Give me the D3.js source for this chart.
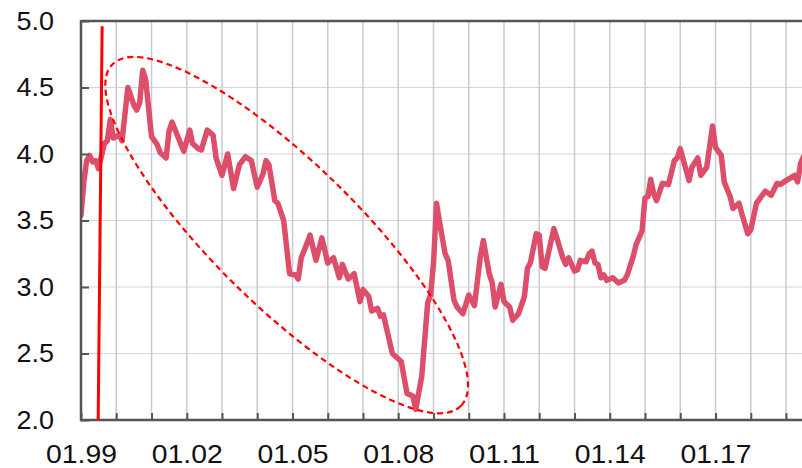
<!DOCTYPE html>
<html>
<head>
<meta charset="utf-8">
<script src="https://cdn.jsdelivr.net/npm/d3@7/dist/d3.min.js"></script>
<style>
  html, body { margin: 0; padding: 0; background: #fff; }
  svg { display: block; }
  text { font-family: "Liberation Sans", Arial, sans-serif; }
</style>
</head>
<body>
<svg id="chart" width="802" height="468"></svg>
<script>
// ---- data ----
const months = ["1999-01","1999-02","1999-03","1999-04","1999-05","1999-06","1999-07","1999-09","1999-10","1999-11","1999-12",
"2000-02","2000-03","2000-05","2000-07","2000-08","2000-09","2000-10","2000-11",
"2001-01","2001-03","2001-04","2001-06","2001-07","2001-08","2001-10","2001-12",
"2002-02","2002-03","2002-05","2002-06","2002-08","2002-10","2002-11",
"2003-01","2003-03","2003-05","2003-07","2003-09","2003-11",
"2004-01","2004-03","2004-04","2004-05","2004-07","2004-08","2004-10","2004-12",
"2005-02","2005-03","2005-04","2005-06","2005-07","2005-09","2005-11",
"2006-01","2006-03","2006-05","2006-06","2006-08","2006-10","2006-12",
"2007-01","2007-03","2007-04","2007-06","2007-07","2007-08","2007-11",
"2008-02","2008-04","2008-06","2008-07","2008-09","2008-11","2008-12",
"2009-01","2009-02","2009-03","2009-05","2009-06","2009-08","2009-09","2009-11",
"2010-01","2010-03","2010-05","2010-06","2010-08","2010-09","2010-10","2010-12",
"2011-01","2011-03","2011-04","2011-06","2011-08","2011-09","2011-10","2011-12",
"2012-01","2012-02","2012-03","2012-06","2012-07","2012-09","2012-10","2012-11",
"2013-01","2013-02","2013-03","2013-05","2013-06","2013-07","2013-08","2013-09","2013-10","2013-11","2013-12",
"2014-02","2014-04","2014-06","2014-07","2014-09","2014-10","2014-12",
"2015-01","2015-02","2015-03","2015-04","2015-05","2015-07","2015-09","2015-11","2015-12",
"2016-01","2016-04","2016-05","2016-07","2016-08","2016-10","2016-12",
"2017-01","2017-03","2017-04","2017-06","2017-07","2017-09","2017-10","2017-12",
"2018-01","2018-03","2018-05","2018-06","2018-08","2018-10","2018-11",
"2019-01","2019-04","2019-05","2019-06","2019-07"];

const values = [3.54,3.80,3.95,3.99,3.94,3.95,3.89,4.08,4.10,4.26,4.12,
4.14,4.10,4.50,4.37,4.33,4.39,4.63,4.56,
4.13,4.07,4.01,3.97,4.17,4.24,4.13,4.02,
4.18,4.08,4.04,4.03,4.18,4.14,3.97,
3.84,4.00,3.74,3.92,3.98,3.95,
3.75,3.85,3.95,3.92,3.65,3.63,3.50,3.10,
3.09,3.06,3.22,3.33,3.39,3.20,3.37,
3.18,3.22,3.07,3.17,3.06,3.10,2.89,
2.98,2.93,2.82,2.84,2.78,2.79,2.50,
2.44,2.20,2.18,2.08,2.33,2.88,2.94,
3.18,3.63,3.50,3.25,3.20,2.90,2.85,2.80,
2.94,2.86,3.23,3.35,3.10,3.03,2.85,3.02,
2.89,2.85,2.75,2.80,2.93,3.14,3.18,3.40,
3.39,3.15,3.14,3.44,3.37,3.22,3.17,3.22,
3.12,3.13,3.20,3.19,3.25,3.27,3.18,3.17,3.07,3.09,3.05,
3.07,3.03,3.05,3.09,3.23,3.32,3.42,
3.67,3.68,3.81,3.70,3.65,3.78,3.77,3.95,3.97,
4.04,3.80,3.90,3.97,3.84,3.90,4.21,
4.05,3.99,3.79,3.68,3.59,3.63,3.55,3.40,
3.43,3.63,3.69,3.72,3.69,3.78,3.77,
3.80,3.84,3.79,3.93,3.98];

const yTicks = [2.0, 2.5, 3.0, 3.5, 4.0, 4.5, 5.0];
const xGridYears = d3.range(1999, 2020);      // yearly gridlines
const xLabelYears = [1999, 2002, 2005, 2008, 2011, 2014, 2017];

// annotations (data space)
const markerLine = [{date: "1999-06-28", value: 2.0}, {date: "1999-08-08", value: 4.96}];
const ellipseCenter = {date: "2004-11-01", value: 3.39};
const ellipseShape = {rx: 244, ry: 71.5, angle: 44.4};

// ---- layout ----
const plotLeft = 81, plotTop = 21, plotBottom = 420, plotRight = 802;
const fontSize = 25.5;

const parseMonth = s => { const p = s.split("-").map(Number); return new Date(p[0], p[1]-1, p[2] || 1); };
const data = months.map((m, i) => ({date: parseMonth(m), value: values[i]}));

const x = d3.scaleTime()
  .domain([new Date(1999, 0, 1), new Date(2019, 0, 1)])
  .range([plotLeft, plotLeft + 35.25 * 20]);
const y = d3.scaleLinear().domain([2, 5]).range([plotBottom, plotTop]);

const svg = d3.select("#chart");

svg.append("defs").append("clipPath").attr("id", "plotclip")
  .append("rect").attr("x", plotLeft).attr("y", 0).attr("width", plotRight - plotLeft).attr("height", plotBottom);

// gridlines
const grid = svg.append("g");
grid.selectAll(".hg").data(yTicks.filter(v => v > 2 && v < 5)).join("line")
  .attr("x1", plotLeft).attr("x2", plotRight)
  .attr("y1", d => y(d)).attr("y2", d => y(d))
  .attr("stroke", "#d3d6da").attr("stroke-width", 1.2);
grid.selectAll(".vg").data(xGridYears.filter(v => v > 1999)).join("line")
  .attr("x1", d => x(new Date(d, 0, 1))).attr("x2", d => x(new Date(d, 0, 1)))
  .attr("y1", plotTop).attr("y2", plotBottom)
  .attr("stroke", "#c6cbd0").attr("stroke-width", 1.5);

// series
const line = d3.line().x(d => x(d.date)).y(d => y(d.value)).curve(d3.curveLinear);
svg.append("path").datum(data)
  .attr("clip-path", "url(#plotclip)")
  .attr("d", line)
  .attr("fill", "none")
  .attr("stroke", "#dd4e6b")
  .attr("stroke-width", 5.5)
  .attr("stroke-linejoin", "round")
  .attr("stroke-linecap", "round");

// axes
const axisColor = "#555";
const yAxis = d3.axisLeft(y).tickValues(yTicks).tickFormat(d3.format(".1f")).tickSize(-8).tickPadding(27);
const gy = svg.append("g").attr("transform", `translate(${plotLeft},0)`).call(yAxis);
gy.select(".domain").remove();
gy.selectAll(".tick line").attr("stroke", axisColor).attr("stroke-width", 2);
gy.selectAll(".tick text").attr("font-size", fontSize).attr("fill", "#111")
  .attr("textLength", 37.5).attr("lengthAdjust", "spacingAndGlyphs");

const xAxis = d3.axisBottom(x)
  .tickValues(xGridYears.map(yv => new Date(yv, 0, 1)))
  .tickSize(-7)
  .tickFormat(d => xLabelYears.includes(d.getFullYear()) ? d3.timeFormat("%m.%y")(d) : "");
const gx = svg.append("g").attr("transform", `translate(0,${plotBottom})`).call(xAxis);
gx.select(".domain").remove();
gx.selectAll(".tick line").attr("stroke", axisColor).attr("stroke-width", 2);
gx.selectAll(".tick text").attr("font-size", fontSize).attr("fill", "#111").attr("y", 43).attr("dy", null)
  .filter(function() { return this.textContent !== ""; })
  .attr("textLength", 71).attr("lengthAdjust", "spacingAndGlyphs");

// frame lines
svg.append("line").attr("x1", plotLeft).attr("x2", plotRight).attr("y1", plotTop).attr("y2", plotTop)
  .attr("stroke", axisColor).attr("stroke-width", 2.5);
svg.append("line").attr("x1", plotLeft - 1).attr("x2", plotRight).attr("y1", plotBottom).attr("y2", plotBottom)
  .attr("stroke", axisColor).attr("stroke-width", 2.5);
svg.append("line").attr("x1", plotLeft).attr("x2", plotLeft).attr("y1", plotTop - 1).attr("y2", plotBottom + 1)
  .attr("stroke", axisColor).attr("stroke-width", 2.5);

// annotations
svg.append("line")
  .attr("x1", x(parseMonth(markerLine[0].date))).attr("y1", y(markerLine[0].value))
  .attr("x2", x(parseMonth(markerLine[1].date))).attr("y2", y(markerLine[1].value))
  .attr("stroke", "#ff0000").attr("stroke-width", 3);

const cx = x(parseMonth(ellipseCenter.date)), cy = y(ellipseCenter.value);
svg.append("ellipse")
  .attr("cx", 0).attr("cy", 0)
  .attr("rx", ellipseShape.rx).attr("ry", ellipseShape.ry)
  .attr("transform", `translate(${cx},${cy}) rotate(${ellipseShape.angle})`)
  .attr("fill", "none").attr("stroke", "#ff0000").attr("stroke-width", 2.2)
  .attr("stroke-dasharray", "6,4");
</script>
</body>
</html>
